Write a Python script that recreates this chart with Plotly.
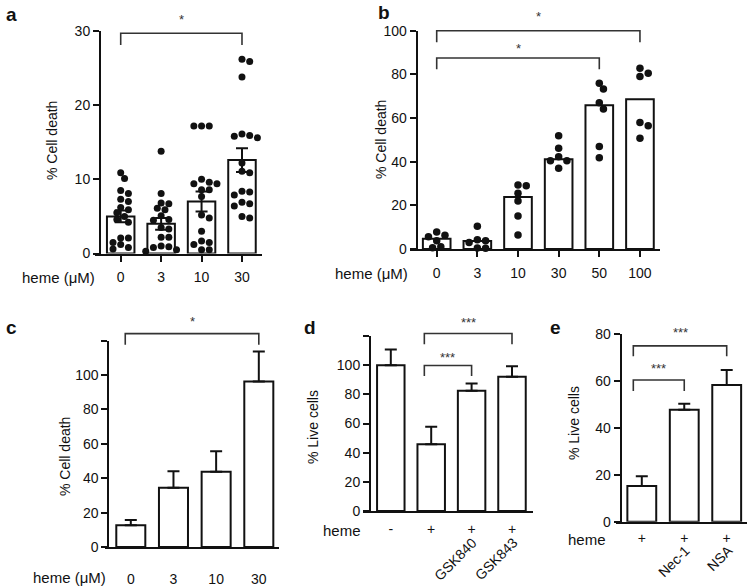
import plotly.graph_objects as go

W, H = 753, 588

# ---------------- data ----------------
# panel a
a_doses = ["0", "3", "10", "30"]
a_mean = [5.0, 4.0, 7.0, 12.6]
a_sem = [0.8, 0.8, 1.35, 1.6]
a_pts_0 = [10.9, 10.1, 8.5, 8.1, 7.3, 7.0, 6.2, 5.9, 5.5, 5.0, 4.6, 4.2, 2.1, 2.1, 1.5, 1.2, 0.8, 0.6]
a_pts_3 = [13.8, 8.1, 6.8, 6.7, 6.1, 5.9, 5.1, 4.6, 4.5, 3.5, 3.3, 2.2, 2.2, 1.0, 0.9, 0.8, 0.5, 0.3]
a_pts_10 = [17.2, 17.2, 17.2, 10.0, 9.6, 9.4, 9.4, 8.6, 8.6, 7.7, 5.2, 4.8, 3.0, 1.7, 1.5, 1.2, 0.5, 0.5]
a_pts_30 = [26.2, 25.9, 23.8, 16.1, 15.9, 15.8, 15.6, 12.2, 11.1, 10.9, 8.4, 8.3, 7.9, 6.9, 6.7, 6.4, 5.0, 4.8]

# panel b
b_doses = ["0", "3", "10", "30", "50", "100"]
b_mean = [4.7, 3.7, 23.8, 41.1, 65.8, 68.6]
b_pts_0 = [7.8, 6.3, 5.6, 3.8, 1.0, 0.6]
b_pts_3 = [10.4, 4.2, 3.8, 3.0, 0.5, 0.3]
b_pts_10 = [29.3, 29.0, 25.5, 22.0, 15.1, 6.4]
b_pts_30 = [51.9, 46.1, 42.3, 40.4, 40.4, 37.0]
b_pts_50 = [75.9, 73.3, 67.0, 64.1, 46.9, 41.8]
b_pts_100 = [82.8, 80.5, 79.0, 58.0, 56.5, 50.7]

# panel c
c_doses = ["0", "3", "10", "30"]
c_mean = [12.6, 34.5, 43.7, 96.3]
c_err = [3.1, 9.6, 12.0, 17.4]

# panel d
d_heme = ["-", "+", "+", "+"]
d_inhib = ["", "", "GSK840", "GSK843"]
d_mean = [100.0, 45.7, 82.4, 92.0]
d_err = [10.7, 12.0, 5.1, 7.3]

# panel e
e_heme = ["+", "+", "+"]
e_inhib = ["", "Nec-1", "NSA"]
e_mean = [15.2, 47.6, 58.2]
e_err = [4.1, 2.6, 6.4]

# significance brackets: (left group, right group, bracket level, leg end, label, label level)
a_sig = [(0, 3, 29.7, 28.1, "*", 31.6)]
b_sig = [(0, 5, 100.0, 94.7, "*", 106.5), (0, 4, 87.5, 82.3, "*", 92.0)]
c_sig = [(0, 3, 124.1, 117.7, "*", 131.0)]
d_sig = [(1, 3, 121.7, 114.4, "***", 129.5), (1, 2, 99.8, 92.5, "***", 105.0)]
e_sig = [(0, 2, 74.8, 70.4, "***", 80.3), (0, 1, 60.3, 55.6, "***", 65.2)]

# ---------------- geometry (pixels) ----------------
geo = {
    "a": dict(x0=95, x1=262, yax=100, yb=253.5, yt=31, c0=120.7, step=40.43, ymax=30, top=2, legoff=0.0),
    "b": dict(x0=410, x1=660, yax=416.7, yb=249, yt=30.7, c0=436.7, step=40.65, ymax=100, top=2, legoff=0.0),
    "c": dict(x0=105, x1=279, yax=108.3, yb=547, yt=340.7, c0=130.8, step=42.67, ymax=120, top=300, legoff=-0.13),
    "d": dict(x0=362.5, x1=533.3, yax=370, yb=511, yt=336, c0=390.8, step=40.4, ymax=120, top=300, legoff=-0.17),
    "e": dict(x0=616, x1=747, yax=620.7, yb=521.7, yt=333.7, c0=641.8, step=42.45, ymax=80, top=300, legoff=-0.2),
}

FONT = "Liberation Sans, Arial, Helvetica, sans-serif"
INK = "#111111"
BARW = 0.68
LW = 2


def fx(px):
    return px / W


def fy(py):
    return 1 - py / H


def swarm(values, g, d):
    """simple beeswarm: returns group-unit offsets so dots do not overlap"""
    ypu = (g["yb"] - g["yt"]) / g["ymax"]
    placed = []
    offs = []
    cands = [0.0]
    for k in range(1, 12):
        cands += [k * d * 0.55, -k * d * 0.55]
    for v in values:
        y = v * ypu
        chosen = cands[-1]
        for c in cands:
            if all((c - px) ** 2 + (y - py) ** 2 >= (0.92 * d) ** 2 for px, py in placed):
                chosen = c
                break
        placed.append((chosen, y))
        offs.append(chosen / g["step"])
    return offs


fig = go.Figure()
layout = dict(
    template="none",
    width=W, height=H, margin=dict(l=0, r=0, t=0, b=0, pad=0), autosize=False,
    paper_bgcolor="white", plot_bgcolor="rgba(0,0,0,0)",
    showlegend=False, font=dict(family=FONT, size=14, color=INK),
)
annotations = []

panels = [
    ("a", 1, a_mean, a_sem, True, a_sig),
    ("b", 2, b_mean, None, False, b_sig),
    ("c", 3, c_mean, c_err, False, c_sig),
    ("d", 4, d_mean, d_err, False, d_sig),
    ("e", 5, e_mean, e_err, False, e_sig),
]
ticktexts = {"a": a_doses, "b": b_doses, "c": c_doses, "d": d_heme, "e": e_heme}
ytickvals = {
    "a": [0, 10, 20, 30],
    "b": [0, 20, 40, 60, 80, 100],
    "c": [0, 20, 40, 60, 80, 100, 120],
    "d": [0, 20, 40, 60, 80, 100, 120],
    "e": [0, 20, 40, 60, 80],
}
ytickhide = {"c": 120, "d": 120}
points = {
    "a": [a_pts_0, a_pts_3, a_pts_10, a_pts_30],
    "b": [b_pts_0, b_pts_3, b_pts_10, b_pts_30, b_pts_50, b_pts_100],
}
dotsize = {"a": 7, "b": 7.5}

for key, n, means, errs, sym, sig in panels:
    g = geo[key]
    xr = [(g["x0"] - g["c0"]) / g["step"], (g["x1"] - g["c0"]) / g["step"]]
    xs = list(range(len(means)))
    xa, ya = f"x{n}", f"y{n}"
    hx, hy = f"x{n + 5}", f"y{n + 5}"
    bar = dict(
        x=xs, y=means, xaxis=xa, yaxis=ya, width=BARW,
        marker=dict(color="white", line=dict(color=INK, width=LW)),
        hoverinfo="skip",
    )
    if errs is not None:
        if sym:
            bar["error_y"] = dict(type="data", array=errs, symmetric=True,
                                  color=INK, thickness=LW, width=6)
        else:
            bar["error_y"] = dict(type="data", array=errs, arrayminus=[0] * len(errs),
                                  symmetric=False, color=INK, thickness=LW, width=6)
    fig.add_trace(go.Bar(**bar))

    if key in points:
        px_, py_ = [], []
        for i, vals in enumerate(points[key]):
            offs = swarm(vals, g, dotsize[key])
            px_ += [i + o for o in offs]
            py_ += vals
        fig.add_trace(go.Scatter(x=px_, y=py_, xaxis=xa, yaxis=ya, mode="markers",
                                 marker=dict(color=INK, size=dotsize[key], line=dict(width=0)),
                                 cliponaxis=False, hoverinfo="skip"))

    # brackets on hidden axes sharing the same scale
    ypu = (g["yb"] - g["yt"]) / g["ymax"]
    hymax = (g["yb"] - g["top"]) / ypu
    for (i, j, lev, leg, lab, laby) in sig:
        xl = i + g["legoff"]
        fig.add_trace(go.Scatter(x=[xl, xl, j, j], y=[leg, lev, lev, leg],
                                 xaxis=hx, yaxis=hy, mode="lines",
                                 line=dict(color="#333333", width=1.6),
                                 hoverinfo="skip"))
        annotations.append(dict(x=(xl + j) / 2, y=laby, xref=hx, yref=hy, text=lab,
                                showarrow=False, font=dict(size=13, color="#333333"),
                                xanchor="center", yanchor="middle"))

    has_xticks = key in ("a", "b")
    tt = ticktexts[key]
    layout[f"xaxis{n}"] = dict(
        domain=[fx(g["x0"]), fx(g["x1"])], range=xr, anchor=ya, automargin=False,
        showline=True, linecolor=INK, linewidth=LW, showgrid=False, zeroline=False,
        tickmode="array", tickvals=xs, ticktext=tt,
        ticks="outside" if has_xticks else "", ticklen=6, tickwidth=LW, tickcolor=INK,
        tickfont=dict(size=14, color=INK, family=FONT), fixedrange=True,
    )
    yt_text = [("" if v == ytickhide.get(key) else str(v)) for v in ytickvals[key]]
    layout[f"yaxis{n}"] = dict(
        domain=[fy(g["yb"]), fy(g["yt"])], range=[0, g["ymax"]],
        anchor="free", position=fx(g["yax"]), automargin=False,
        showline=True, linecolor=INK, linewidth=LW, showgrid=False, zeroline=False,
        tickmode="array", tickvals=ytickvals[key], ticktext=yt_text,
        ticks="outside", ticklen=6, tickwidth=LW, tickcolor=INK,
        tickfont=dict(size=14, color=INK, family=FONT), fixedrange=True,
    )
    layout[f"xaxis{n + 5}"] = dict(domain=[fx(g["x0"]), fx(g["x1"])], range=xr,
                                   anchor=hy, visible=False, fixedrange=True, automargin=False)
    layout[f"yaxis{n + 5}"] = dict(domain=[fy(g["yb"]), fy(g["top"])], range=[0, hymax],
                                   anchor=hx, visible=False, fixedrange=True, automargin=False)

# x tick label standoffs
layout["xaxis1"]["ticklabelstandoff"] = 4
layout["xaxis2"]["ticklabelstandoff"] = 4
layout["xaxis3"]["ticklabelstandoff"] = 18
layout["xaxis4"]["ticklabelstandoff"] = 4
layout["xaxis5"]["ticklabelstandoff"] = 2

# rotated inhibitor labels
for n, key, inhib, ytop in ((4, "d", d_inhib, 532), (5, "e", e_inhib, 539)):
    for i, lab in enumerate(inhib):
        if lab:
            annotations.append(dict(x=i + 0.28, y=fy(ytop), xref=f"x{n}", yref="paper",
                                    text=lab, textangle=-45, showarrow=False,
                                    xanchor="right", yanchor="top",
                                    font=dict(size=14, color=INK)))

# left-hand x labels
for txt, xr_, yc in (("heme (\u03bcM)", 97, 277), ("heme (\u03bcM)", 410, 273),
                     ("heme (\u03bcM)", 108, 577), ("heme", 363, 530), ("heme", 608, 539)):
    annotations.append(dict(x=fx(xr_), y=fy(yc), xref="paper", yref="paper", text=txt,
                            showarrow=False, xanchor="right", yanchor="middle",
                            font=dict(size=15, color=INK)))

# y-axis titles
for txt, xc, yc in (("% Cell death", 52, 140), ("% Cell death", 381, 140),
                    ("% Cell death", 65, 457), ("% Live cells", 313, 427),
                    ("% Live cells", 574, 423)):
    annotations.append(dict(x=fx(xc), y=fy(yc), xref="paper", yref="paper", text=txt,
                            textangle=-90, showarrow=False, xanchor="center", yanchor="middle",
                            font=dict(size=14, color=INK)))

# panel letters
for txt, xc, yc in (("a", 11, 14), ("b", 384, 13), ("c", 11, 327), ("d", 310, 327), ("e", 555, 327)):
    annotations.append(dict(x=fx(xc), y=fy(yc), xref="paper", yref="paper",
                            text=f"<b>{txt}</b>", showarrow=False,
                            xanchor="center", yanchor="middle",
                            font=dict(size=19, color=INK)))

layout["annotations"] = annotations
fig.update_layout(**layout)
fig.write_html(
    "out.html",
    config={"displayModeBar": False, "staticPlot": True},
    post_script="document.body.style.margin='0px';document.body.style.overflow='hidden';",
)
